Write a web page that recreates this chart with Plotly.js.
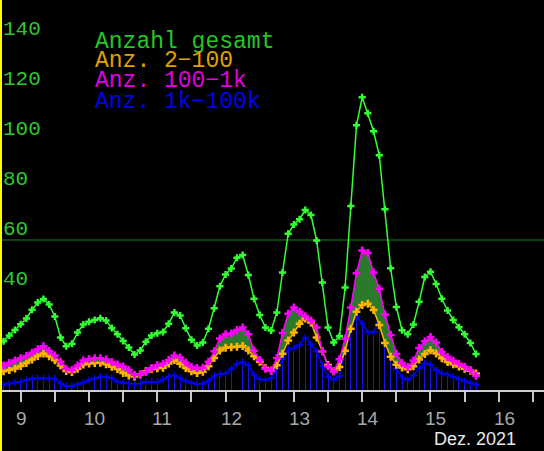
<!DOCTYPE html>
<html><head><meta charset="utf-8">
<script src="https://cdn.plot.ly/plotly-3.0.1.min.js"></script>
<style>html,body{margin:0;padding:0;background:#000;}#chart{width:544px;height:451px;}</style>
</head><body><div id="chart"></div>
<script>
// time axis: day of December 2021, 2-hour steps from 8 Dec 16:00
const startDay = 8 + 16/24;
const stepDays = 2/24;

const gesamt = [17.5,19.5,21.8,24,26.3,28.6,32.1,35,36.4,34.2,29.4,21,17.5,18.5,23,26.2,27.3,28,28.7,27.8,
  24.8,22.3,19.6,17,14.2,15.8,19.3,21.8,22.7,23.2,26.5,31,29.8,24.7,20.1,17.8,19,24.5,32.7,41.5,
  46.2,48.6,52.9,54,46,36.5,30,25,23.8,31,47,62.5,66.2,68.3,72,70,59.8,43,25,19,
  21.5,41,73.6,105.9,117.1,110.7,103.5,93.9,72.3,48.7,33.2,23.9,22.3,26.2,35.3,45.2,47.3,42.4,36.5,31.8,
  28,25.1,22.3,18.8,14.4];
const anz2_100 = [7,7.5,8,8.6,9.6,10.8,12.2,13.6,14.6,13.5,11.9,9.8,7.6,7.2,8.5,10.2,10.6,10.8,10.9,10.3,
  9.3,8.4,6.8,5.8,5.4,6.2,7.5,8.4,8.7,8.9,10.6,12,10.5,8.8,7.5,6.8,7.3,9.5,12.8,15.8,
  16.9,17.1,17.3,17.6,15.8,13.5,11.3,8.8,7.8,9.9,14.5,19.8,23,26.5,28.6,27,21,15.5,10,7.5,
  9.2,15.7,24.5,31.3,34,34.5,32,26,18.8,13.3,10.1,9,8.3,9.5,12.2,14.4,15.9,14.6,12.7,11.2,
  10.3,9.4,8.5,7.7,6.6];
const anz100_1k = [9,9.8,10.8,11.8,12.7,13.6,14.9,16.3,17.5,15.6,13.8,11.3,8.5,8,9.8,11.8,12.3,12.7,12.7,12.2,
  11.2,10.2,9.4,8,6,6.2,7.2,8.8,9.9,10.5,12,13.8,13,11,9.2,8.8,8.9,11.3,15.5,20.6,
  22.3,22.6,24,25,22.3,15.7,12,8.5,7.8,12.8,22.8,30.5,33,31.3,29.5,27.8,25,15.5,9.5,7.5,
  12.3,20.5,33,46.7,55.8,54.8,47,40.5,30.2,22,14.5,10.8,9.2,11.8,16.8,19.5,21.2,19,15.2,13.2,
  11.7,10.5,9.3,8,5.7];
const anz1k_100k = [2,2.1,2.5,3,3.3,4,4.6,4.7,4.7,4.7,4.5,2.6,1.6,1.5,2.2,3,4,4.7,5.3,5.2,
  4.8,3.3,2.8,2.6,2.4,2.6,3.3,3.3,3.3,4.2,5.4,5.9,4.8,3.5,2.8,2.4,2.5,3.6,5.6,6.4,
  6.6,8.3,10.5,11.2,9.9,6,4.3,4,4.8,8.5,12.5,16.2,16.7,18,21,18.3,15.5,9.6,5.3,4.1,
  5.5,16.2,26,29.3,26.5,23,23.2,26.9,23.5,15.5,8.5,5,4.1,5.8,8.8,10.7,10.1,7.9,6.7,6.2,
  5.2,4.4,3.6,2.8,2.1];

const seriesNames = ['Anzahl gesamt','Anz. 2\u2212100','Anz. 100\u22121k','Anz. 1k\u2212100k'];
const dayLabels = [9,10,11,12,13,14,15,16];
const yLabelVals = [40,60,80,100,120,140];
const refLine = 60;
const monthLabel = 'Dez. 2021';

const t = gesamt.map((_, i) => startDay + i*stepDays);

const GREEN='#33ff33', ORANGE='#ffb400', MAGENTA='#ff00ff', BLUE='#0000ff';

const traces = [
  {type:'bar', x:t, y:anz1k_100k, width:0.014, marker:{color:'#1414e6', line:{width:0}}, hoverinfo:'skip'},
  {type:'scatter', mode:'lines+markers', x:t, y:anz1k_100k, line:{color:BLUE,width:1.5},
   marker:{symbol:'cross-thin', size:5, line:{color:BLUE,width:1.5}}},
  {type:'scatter', mode:'lines+markers', x:t, y:anz2_100, line:{color:ORANGE,width:1.5},
   marker:{symbol:'cross', size:6.5, color:ORANGE}},
  {type:'scatter', mode:'lines+markers', x:t, y:anz100_1k, fill:'tonexty', fillcolor:'#2b7a2b',
   line:{color:MAGENTA,width:1.5}, marker:{symbol:'cross', size:6.5, color:MAGENTA}},
  {type:'scatter', mode:'lines+markers', x:t, y:gesamt, line:{color:GREEN,width:1.5},
   marker:{symbol:'cross', size:6, color:GREEN}}
];

const legendColors = ['#22c822','#e0a000','#e000e0','#0000ee'];
const annotations = [];
seriesNames.forEach((n,i)=>annotations.push({xref:'paper',yref:'paper',x:94/544,y:1-(41.5+20*i)/451,
  xanchor:'left',yanchor:'middle',showarrow:false,text:n,borderpad:0,
  font:{family:'Liberation Mono, DejaVu Sans Mono, monospace',size:23,color:legendColors[i]}}));
yLabelVals.forEach(v=>annotations.push({xref:'paper',yref:'y',x:1/544,y:v,xanchor:'left',yanchor:'bottom',
  yshift:-3,showarrow:false,text:String(v),
  font:{family:'Liberation Mono, DejaVu Sans Mono, monospace',size:21,color:'#2ec82e'}}));
dayLabels.forEach(d=>annotations.push({xref:'x',yref:'paper',x:d,y:1-418.5/451,xanchor:'left',yanchor:'middle',
  xshift:-7,showarrow:false,text:String(d),
  font:{family:'Liberation Sans, Arial, sans-serif',size:19,color:'#a8a8a8'}}));
annotations.push({xref:'paper',yref:'paper',x:475/544,y:1-438.5/451,xanchor:'center',yanchor:'middle',
  showarrow:false,text:monthLabel,font:{family:'Liberation Sans, Arial, sans-serif',size:18,color:'#e8e8e8'}});

const tickv = [];
for (let d = 8.5; d <= 16.5; d += 0.5) tickv.push(d);

const layout = {
  width:544, height:451, margin:{l:0,r:0,t:0,b:0,pad:0},
  paper_bgcolor:'#000', plot_bgcolor:'#000', showlegend:false, bargap:0,
  xaxis:{range:[8.697,16.662], anchor:'free', position:24.4/180.4, showgrid:false, zeroline:false,
    showline:true, linecolor:'#d0d0d0', linewidth:1.5, layer:'below traces',
    ticks:'outside', tickvals:tickv, ticklen:10, tickwidth:2, tickcolor:'#c8c8c8', showticklabels:false},
  yaxis:{range:[-24.4,156], showgrid:false, zeroline:false, showline:false, showticklabels:false, ticks:''},
  shapes:[
    {type:'line', xref:'paper', yref:'y', x0:0, x1:1, y0:refLine, y1:refLine, line:{color:'#1f801f',width:1}, layer:'below'},
    {type:'line', xref:'paper', yref:'paper', x0:1/544, x1:1/544, y0:0, y1:1, line:{color:'#ffff00',width:2}}
  ],
  annotations:annotations
};
Plotly.newPlot('chart', traces, layout, {staticPlot:true, displayModeBar:false});
</script></body></html>
